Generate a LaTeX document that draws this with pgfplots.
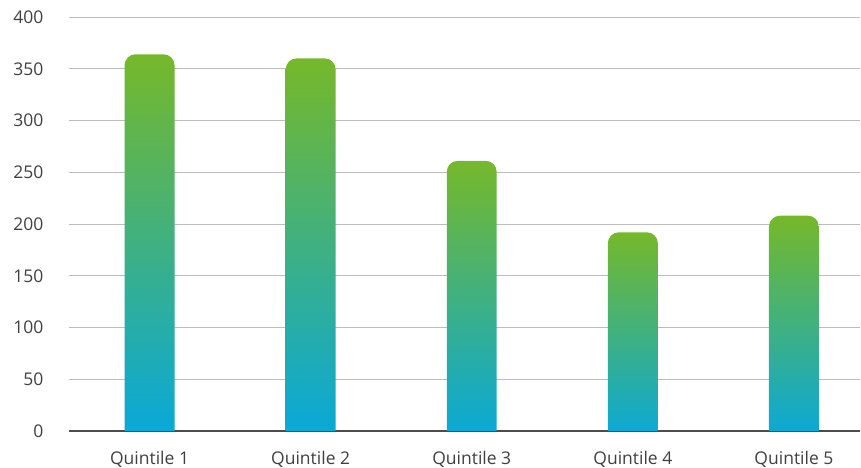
\documentclass[border=0pt]{standalone}
\usepackage{pgfplots}
\pgfplotsset{compat=1.18}
\usepackage{fontspec}
\setmainfont{Open Sans}
\definecolor{bartop}{HTML}{76B82A}
\definecolor{barbot}{HTML}{05A8DF}
\definecolor{gridc}{HTML}{BDBDBD}
\definecolor{txt}{HTML}{404040}
\begin{document}
\begin{tikzpicture}
\begin{axis}[
  at={(0,0)}, anchor=south west,
  scale only axis, width=791bp, height=414bp,
  xmin=-0.5, xmax=4.41, ymin=0, ymax=400,
  ytick={0,50,...,400},
  xtick={0,1,2,3,4},
  xticklabels={Quintile 1,Quintile 2,Quintile 3,Quintile 4,Quintile 5},
  axis y line*=left,
  y axis line style={draw=none},
  axis x line*=bottom,
  x axis line style={draw=black!70, line width=1.2bp, -},
  ymajorgrids, grid style={gridc, line width=0.8bp},
  major tick length=0pt,
  tick style={draw=none},
  every tick label/.append style={font=\fontsize{17.5bp}{20bp}\selectfont, text=txt},
  /pgf/number format/assume math mode=true,
  yticklabel style={anchor=east, xshift=-22bp},
  xticklabel style={anchor=north, yshift=-17bp},
  clip=true,
]
\pgfplotsset{bar/.style={draw=none, top color=bartop, bottom color=barbot, rounded corners=11bp}}
\addplot[bar] coordinates {(0,-15) (-0.155,-15) (-0.155,364) (0.155,364) (0.155,-15)} -- cycle;
\addplot[bar] coordinates {(1,-15) (0.845,-15) (0.845,360) (1.155,360) (1.155,-15)} -- cycle;
\addplot[bar] coordinates {(2,-15) (1.845,-15) (1.845,261) (2.155,261) (2.155,-15)} -- cycle;
\addplot[bar] coordinates {(3,-15) (2.845,-15) (2.845,192) (3.155,192) (3.155,-15)} -- cycle;
\addplot[bar] coordinates {(4,-15) (3.845,-15) (3.845,208) (4.155,208) (4.155,-15)} -- cycle;
\end{axis}
\pgfresetboundingbox
\path (-69bp,-37bp) rectangle (792bp,431bp);
\end{tikzpicture}
\end{document}
